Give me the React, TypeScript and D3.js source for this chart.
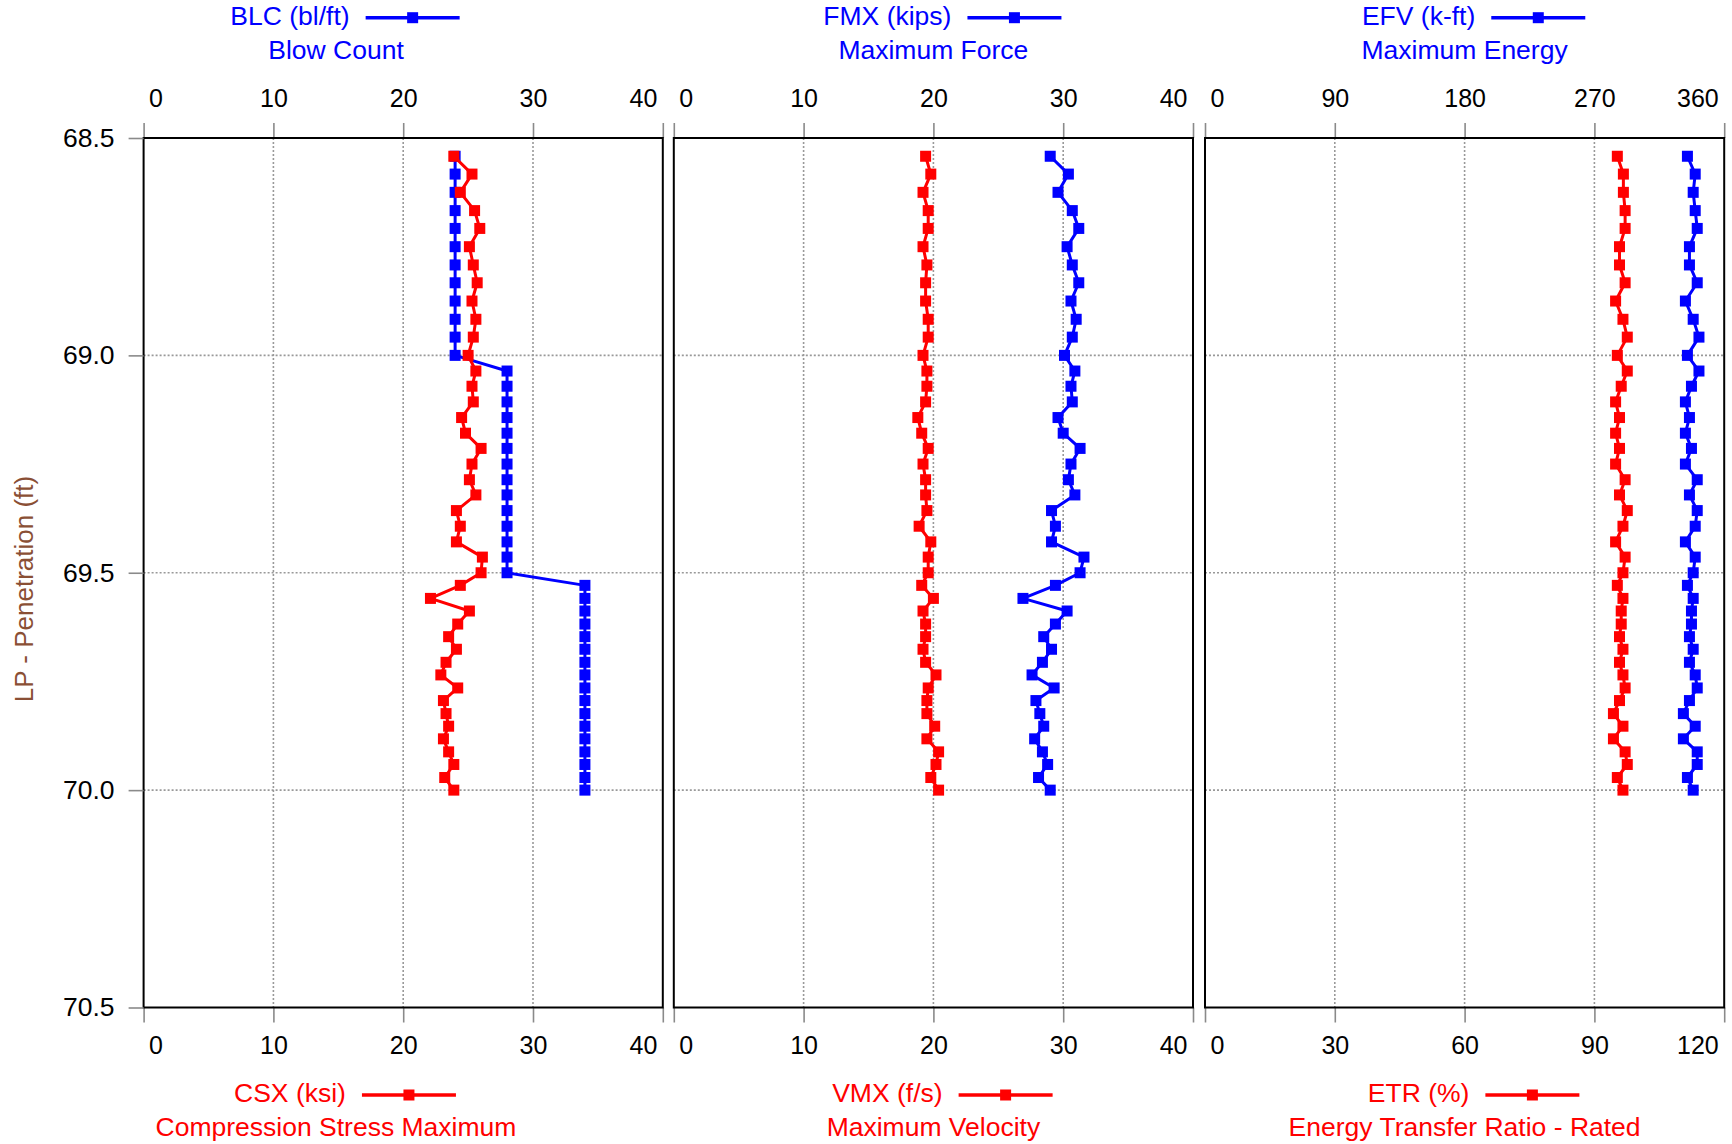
import React, { useEffect, useRef } from 'react';
import * as d3 from 'd3';

// Penetration depth of each blow (ft)
const depth = [
  68.542, 68.583, 68.625, 68.667, 68.708, 68.75, 68.792, 68.833, 68.875, 68.917, 68.958, 69.0,
  69.036, 69.071, 69.107, 69.143, 69.179, 69.214, 69.25, 69.286, 69.321, 69.357, 69.393, 69.429, 69.464, 69.5,
  69.529, 69.559, 69.588, 69.618, 69.647, 69.676, 69.706, 69.735, 69.765, 69.794, 69.824, 69.853, 69.882, 69.912, 69.941, 69.971, 70.0,
];
const blc = [
  24, 24, 24, 24, 24, 24, 24, 24, 24, 24, 24, 24,
  28, 28, 28, 28, 28, 28, 28, 28, 28, 28, 28, 28, 28, 28,
  34, 34, 34, 34, 34, 34, 34, 34, 34, 34, 34, 34, 34, 34, 34, 34, 34,
];
const csx = [
  23.9, 25.3, 24.4, 25.5, 25.9, 25.1, 25.4, 25.7, 25.3, 25.6, 25.4, 25.0,
  25.6, 25.3, 25.4, 24.5, 24.8, 26.0, 25.3, 25.1, 25.6, 24.1, 24.4, 24.1, 26.1, 26.0,
  24.4, 22.1, 25.1, 24.2, 23.5, 24.1, 23.3, 22.9, 24.2, 23.1, 23.3, 23.5, 23.1, 23.5, 23.9, 23.2, 23.9,
];
const fmx = [
  29.0, 30.4, 29.6, 30.7, 31.2, 30.3, 30.7, 31.2, 30.6, 31.0, 30.7, 30.1,
  30.9, 30.6, 30.7, 29.6, 30.0, 31.3, 30.6, 30.4, 30.9, 29.1, 29.4, 29.1, 31.6, 31.3,
  29.4, 26.9, 30.3, 29.4, 28.5, 29.1, 28.4, 27.6, 29.3, 27.9, 28.2, 28.5, 27.8, 28.4, 28.8, 28.1, 29.0,
];
const vmx = [
  19.4, 19.8, 19.2, 19.6, 19.6, 19.2, 19.5, 19.4, 19.4, 19.6, 19.6, 19.2,
  19.5, 19.5, 19.4, 18.8, 19.1, 19.6, 19.2, 19.4, 19.4, 19.5, 18.9, 19.8, 19.6, 19.6,
  19.1, 20.0, 19.2, 19.4, 19.4, 19.2, 19.4, 20.2, 19.6, 19.5, 19.5, 20.1, 19.5, 20.4, 20.2, 19.8, 20.4,
];
const efv = [
  334.5, 339.9, 338.5, 339.9, 341.3, 335.9, 335.9, 341.3, 333.1, 338.5, 342.5, 334.5,
  342.5, 337.3, 333.1, 335.9, 333.1, 337.3, 333.1, 341.3, 335.9, 341.3, 339.9, 333.1, 339.9, 338.5,
  334.5, 338.5, 337.3, 337.3, 335.9, 338.5, 335.9, 339.9, 341.3, 335.9, 331.7, 339.9, 331.7, 341.3, 341.3, 334.5, 338.5,
];
const etr = [
  95.3, 96.7, 96.7, 97.1, 97.1, 95.8, 95.8, 97.1, 94.9, 96.6, 97.6, 95.3,
  97.6, 96.2, 94.9, 95.8, 94.9, 95.8, 94.9, 97.1, 95.8, 97.6, 96.6, 94.9, 97.1, 96.6,
  95.3, 96.6, 96.2, 96.2, 95.8, 96.6, 95.8, 96.6, 97.1, 95.8, 94.4, 96.6, 94.4, 97.1, 97.6, 95.3, 96.6,
];

const depthTicks = [68.5, 69.0, 69.5, 70.0, 70.5];
const ticks40 = [0, 10, 20, 30, 40];
const ticksEfv = [0, 90, 180, 270, 360];
const ticksEtr = [0, 30, 60, 90, 120];

const topNames = ['BLC (bl/ft)', 'FMX (kips)', 'EFV (k-ft)'];
const topDescs = ['Blow Count', 'Maximum Force', 'Maximum Energy'];
const bottomNames = ['CSX (ksi)', 'VMX (f/s)', 'ETR (%)'];
const bottomDescs = ['Compression Stress Maximum', 'Maximum Velocity', 'Energy Transfer Ratio - Rated'];

const W = 1732;
const H = 1144;
const FONT = '"Liberation Sans", Arial, sans-serif';
const BLUE = '#0000ff';
const RED = '#ff0000';

export default function App() {
  const ref = useRef<SVGSVGElement | null>(null);

  useEffect(() => {
    const svg = d3.select(ref.current);
    svg.selectAll('*').remove();

    const top = 138;
    const bottom = 1007.5;
    const panelLefts = [143.6, 673.8, 1205];
    const pw = 519.2;

    const y = d3.scaleLinear().domain([68.5, 70.5]).range([top, bottom]);

    const panels = [
      { tv: blc, bv: csx, td: [0, 40], bd: [0, 40], tt: ticks40, bt: ticks40 },
      { tv: fmx, bv: vmx, td: [0, 40], bd: [0, 40], tt: ticks40, bt: ticks40 },
      { tv: efv, bv: etr, td: [0, 360], bd: [0, 120], tt: ticksEfv, bt: ticksEtr },
    ];

    panels.forEach((p, pi) => {
      const x0 = panelLefts[pi];
      const xt = d3.scaleLinear().domain(p.td).range([x0, x0 + pw]);
      const xb = d3.scaleLinear().domain(p.bd).range([x0, x0 + pw]);
      const g = svg.append('g');

      // vertical gridlines
      g.selectAll('line.vg')
        .data(p.bt.slice(1, -1))
        .enter()
        .append('line')
        .attr('x1', (d) => xb(d))
        .attr('x2', (d) => xb(d))
        .attr('y1', top)
        .attr('y2', bottom)
        .attr('stroke', '#999')
        .attr('stroke-width', 1.6)
        .attr('stroke-dasharray', '2 2');
      // horizontal gridlines
      g.selectAll('line.hg')
        .data(depthTicks.slice(1, -1))
        .enter()
        .append('line')
        .attr('x1', x0)
        .attr('x2', x0 + pw)
        .attr('y1', (d) => y(d))
        .attr('y2', (d) => y(d))
        .attr('stroke', '#999')
        .attr('stroke-width', 1.6)
        .attr('stroke-dasharray', '2 2');

      // axes
      const styleAxis = (ag: any, baseline: number, n: number) => {
        ag.select('.domain').remove();
        ag.selectAll('.tick line').attr('stroke', '#8a8a8a').attr('stroke-width', 1.6);
        ag.selectAll('.tick text')
          .attr('font-family', FONT)
          .attr('font-size', 25)
          .attr('fill', '#000')
          .attr('dy', 0)
          .attr('y', baseline)
          .attr('text-anchor', (_: any, i: number) => (i === 0 ? 'start' : i === n - 1 ? 'end' : 'middle'))
          .attr('x', (_: any, i: number) => (i === 0 ? 5 : i === n - 1 ? -6 : 0));
      };
      const at = g
        .append('g')
        .attr('transform', `translate(0,${top})`)
        .call(d3.axisTop(xt).tickValues(p.tt).tickSize(15).tickFormat(d3.format('d')) as any);
      styleAxis(at, 107 - top, p.tt.length);
      const ab = g
        .append('g')
        .attr('transform', `translate(0,${bottom})`)
        .call(d3.axisBottom(xb).tickValues(p.bt).tickSize(15).tickFormat(d3.format('d')) as any);
      styleAxis(ab, 1054 - bottom, p.bt.length);

      // series
      const drawSeries = (vals: number[], xs: any, color: string) => {
        const pts = depth.map((d, i) => [xs(vals[i]), y(d)] as [number, number]);
        g.append('path')
          .attr('d', d3.line()(pts) as string)
          .attr('fill', 'none')
          .attr('stroke', color)
          .attr('stroke-width', 3)
          .attr('stroke-linejoin', 'round');
        g.selectAll(null)
          .data(pts)
          .enter()
          .append('rect')
          .attr('x', (d) => d[0] - 5.5)
          .attr('y', (d) => d[1] - 5.5)
          .attr('width', 11)
          .attr('height', 11)
          .attr('fill', color);
      };
      drawSeries(p.tv, xt, BLUE);
      drawSeries(p.bv, xb, RED);

      // border
      g.append('rect')
        .attr('x', x0)
        .attr('y', top)
        .attr('width', pw)
        .attr('height', bottom - top)
        .attr('fill', 'none')
        .attr('stroke', '#000')
        .attr('stroke-width', 2);

      // legends
      const cx = pi === 0 ? 336 : x0 + pw / 2;
      const legend = (name: string, desc: string, color: string, base1: number, lineY: number, base2: number, shift: number) => {
        g.append('text')
          .attr('x', cx)
          .attr('y', base2)
          .attr('text-anchor', 'middle')
          .attr('font-family', FONT)
          .attr('font-size', 26.5)
          .attr('fill', color)
          .text(desc);
        const t = g
          .append('text')
          .attr('y', base1)
          .attr('font-family', FONT)
          .attr('font-size', 26.5)
          .attr('fill', color)
          .text(name);
        const w = (t.node() as SVGTextElement).getComputedTextLength();
        const total = w + 16 + 94;
        const sx = cx + shift - total / 2;
        t.attr('x', sx);
        const lx = sx + w + 16;
        g.append('line')
          .attr('x1', lx)
          .attr('x2', lx + 94)
          .attr('y1', lineY)
          .attr('y2', lineY)
          .attr('stroke', color)
          .attr('stroke-width', 3.5);
        g.append('rect')
          .attr('x', lx + 47 - 5.5)
          .attr('y', lineY - 5.5)
          .attr('width', 11)
          .attr('height', 11)
          .attr('fill', color);
      };
      legend(topNames[pi], topDescs[pi], BLUE, 24.5, 17.7, 59, 9);
      legend(bottomNames[pi], bottomDescs[pi], RED, 1101.5, 1095, 1136, 9);
    });

    // y axis
    const ay = svg
      .append('g')
      .attr('transform', `translate(${panelLefts[0]},0)`)
      .call(d3.axisLeft(y).tickValues(depthTicks).tickSize(15).tickPadding(14).tickFormat(d3.format('.1f')) as any);
    ay.select('.domain').remove();
    ay.selectAll('.tick line').attr('stroke', '#8a8a8a').attr('stroke-width', 1.6);
    ay.selectAll('.tick text').attr('font-family', FONT).attr('font-size', 26.5).attr('fill', '#000');

    svg
      .append('text')
      .attr('transform', `translate(33,589) rotate(-90)`)
      .attr('text-anchor', 'middle')
      .attr('font-family', FONT)
      .attr('font-size', 26)
      .attr('fill', '#8a4f35')
      .text('LP - Penetration (ft)');
  }, []);

  return (
    <svg
      ref={ref}
      width={W}
      height={H}
      style={{ position: 'absolute', left: 0, top: 0, background: '#fff' }}
    />
  );
}
